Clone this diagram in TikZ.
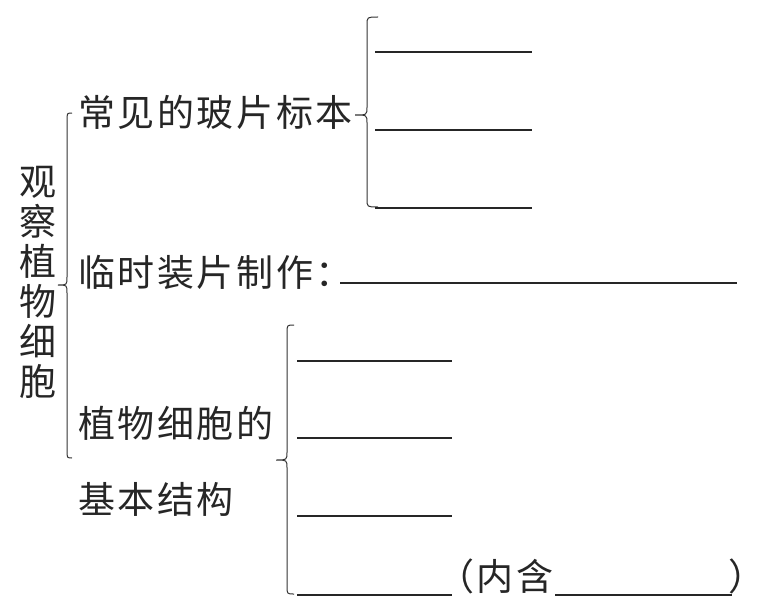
\documentclass[tikz,border=0pt]{standalone}
\usepackage{fontspec}
\newfontfamily\cjk[LetterSpace=7]{Noto Sans CJK SC}
\newfontfamily\cjkv{Noto Sans CJK SC}
\newcommand{\mybrace}[7]{%
  \draw[bracestyle] (#1,#4) .. controls (#2,#4) .. (#2,{#4+#7}) -- (#2,{#5-#7})
    .. controls (#2,#5) .. (#3,#5) .. controls (#2,#5) .. (#2,{#5+#7})
    -- (#2,{#6-#7}) .. controls (#2,#6) .. (#1,#6);}
\begin{document}
\begin{tikzpicture}[x=1pt,y=-1pt,
  bracestyle/.style={line width=1pt, black!80},
  blank/.style={line width=1.2pt, black!85},
  lbl/.style={anchor=base west, inner sep=0pt, font=\cjk\fontsize{37}{40}\selectfont, text=black!85}]
\useasboundingbox[fill=white] (0,0) rectangle (765,607);
% vertical title
\node[inner sep=0pt, align=center, anchor=north, font=\cjkv\fontsize{37}{40}\selectfont, text=black!85] (title) at (38,166)
  {观\\察\\植\\物\\细\\胞};
% braces
\mybrace{72}{67}{58}{113}{285}{458}{8}
\mybrace{378}{367}{355}{17}{115}{207}{8}
\mybrace{294}{287}{276}{325}{460}{594}{8}
% labels
\node[lbl] (a) at (78,126) {常见的玻片标本};
\node[lbl] (b) at (78,286) {临时装片制作：};
\node[lbl] (c) at (78,437) {植物细胞的};
\node[lbl] (d) at (78,513) {基本结构};
\node[lbl] (e) at (437,590) {（内含};
\node[lbl] (f) at (728,590) {）};
% blanks
\draw[blank] (375,52) -- (532,52);
\draw[blank] (375,130) -- (532,130);
\draw[blank] (375,208) -- (532,208);
\draw[blank] (340,283) -- (737,283);
\draw[blank] (297,361) -- (452,361);
\draw[blank] (297,438) -- (452,438);
\draw[blank] (297,516) -- (452,516);
\draw[blank] (297,595) -- (452,595);
\draw[blank] (555,595) -- (732,595);
\end{tikzpicture}
\end{document}
